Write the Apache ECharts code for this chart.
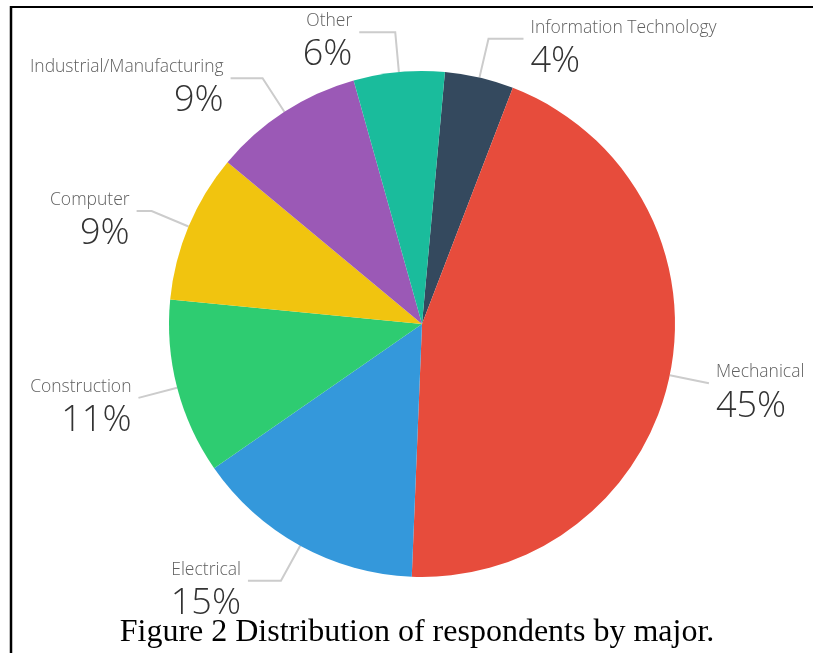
<!DOCTYPE html>
<html>
<head>
<meta charset="utf-8">
<title>Distribution of respondents by major</title>
<script src="https://cdn.jsdelivr.net/npm/echarts@6.0.0/dist/echarts.min.js"></script>
<style>
    html, body { margin: 0; padding: 0; background: #fff; }
    #chart { width: 813px; height: 653px; }
</style>
</head>
<body>
<div id="chart"></div>
<script>
// Majors, clockwise from the top of the pie
const majors = ['Information Technology', 'Mechanical', 'Electrical', 'Construction', 'Computer', 'Industrial/Manufacturing', 'Other'];
// Share of respondents (%)
const shares = [4.4, 44.8, 14.7, 11.2, 9.5, 9.6, 5.8];
// Rounded percentages printed on the labels
const shownPercent = [4, 45, 15, 11, 9, 9, 6];

const caption = 'Figure 2 Distribution of respondents by major.';

const chartDom = document.getElementById('chart');
const chart = echarts.init(chartDom, null, { renderer: 'canvas' });

// horizontal leg of each label line (px), same order as majors
const legs = [35, 0, 33, 0, 15, 32, 36];

const pieData = majors.map((name, i) => ({
    name: name,
    value: shares[i],
    labelLine: { length2: legs[i] }
}));

const option = {
    animation: false,
    color: ['#34495e', '#e74c3c', '#3498db', '#2ecc71', '#f1c40f', '#9b59b6', '#1abc9c'],
    graphic: [
        // frame lines of the original figure
        { type: 'line', shape: { x1: 10, y1: 7, x2: 813, y2: 7 }, style: { stroke: '#000', lineWidth: 2 } },
        { type: 'line', shape: { x1: 11, y1: 6, x2: 11, y2: 653 }, style: { stroke: '#000', lineWidth: 2.5 } },
        {
            type: 'text',
            x: 417,
            y: 633,
            style: {
                text: caption,
                fill: '#000',
                font: '32px "Times New Roman", "Liberation Serif", serif',
                textAlign: 'center',
                textVerticalAlign: 'middle'
            }
        }
    ],
    series: [{
        type: 'pie',
        center: [422, 324],
        radius: 253,
        startAngle: 84.8,
        clockwise: true,
        avoidLabelOverlap: false,
        itemStyle: { borderWidth: 0 },
        emphasis: { disabled: true },
        label: {
            show: true,
            position: 'outside',
            distanceToLabelLine: 7,
            padding: [24, 0, 0, 0],
            formatter: (p) => `{name|${p.name}}\n{pct|${shownPercent[p.dataIndex]}%}`,
            rich: {
                name: { fontFamily: '"Open Sans", sans-serif', fontSize: 17.5, fontWeight: 300, lineHeight: 22, color: '#606060' },
                pct: { fontFamily: '"Open Sans", sans-serif', fontSize: 36, fontWeight: 300, lineHeight: 46, color: '#333' }
            }
        },
        labelLine: {
            show: true,
            length: 40,
            length2: 30,
            smooth: false,
            lineStyle: { color: '#cccccc', width: 2 }
        },
        data: pieData
    }]
};

chart.setOption(option);
window.addEventListener('resize', () => chart.resize());
</script>
</body>
</html>
